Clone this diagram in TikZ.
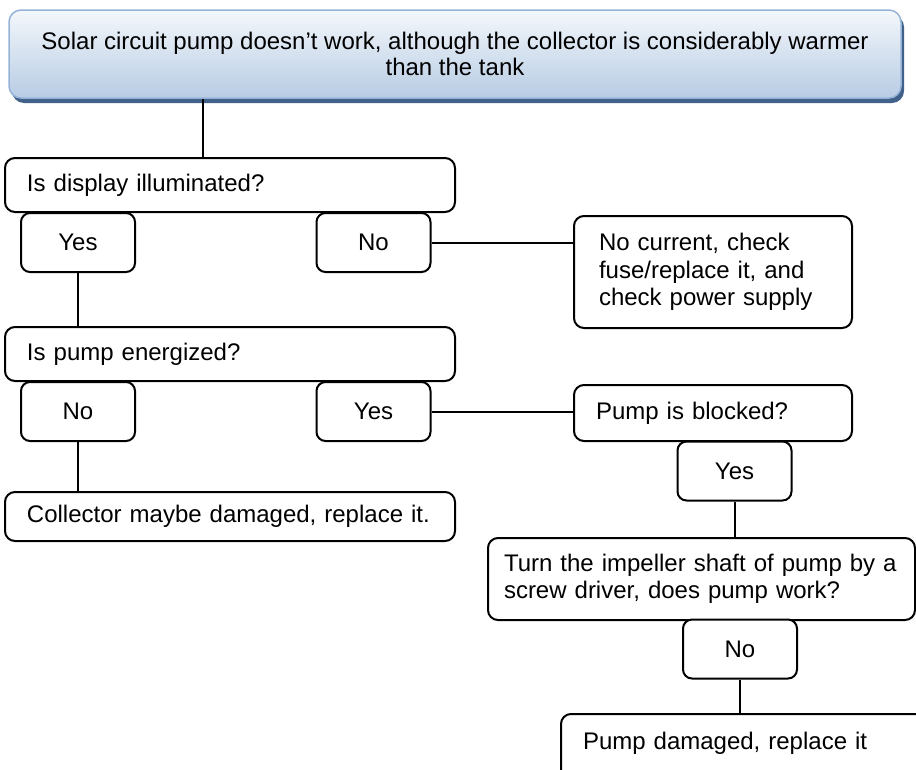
\documentclass[tikz,border=0pt]{standalone}
\usepackage{fontspec}
\setmainfont{Liberation Sans}
\usetikzlibrary{shadows}
\definecolor{hdrrim}{HTML}{95B3D7}
\definecolor{hdrtop}{HTML}{F3F7FB}
\definecolor{hdrbot}{HTML}{B8CCE4}
\definecolor{hdrshade}{HTML}{41618A}
\begin{document}
\begin{tikzpicture}[x=1pt,y=-1pt,line width=2pt,
  every node/.style={font=\fontsize{24}{27.5}\selectfont},
  hdr/.style={draw=hdrrim,line width=1.5pt,rounded corners=12pt,top color=hdrtop,bottom color=hdrbot,
    drop shadow={shadow xshift=3pt,shadow yshift=-5pt,fill=hdrshade,opacity=1},
    minimum width=892pt,minimum height=88pt,align=center,font=\fontsize{24}{26}\selectfont},
  ask/.style={draw,fill=white,rounded corners=10pt,align=left,inner xsep=22pt,inner ysep=0pt},
  ans/.style={draw,fill=white,rounded corners=9pt,minimum width=114pt,minimum height=59pt}]
\useasboundingbox (0,0) rectangle (916,769);
\node[hdr] (top) at (455,54) {Solar circuit pump doesn’t work, although the collector is considerably warmer\\than the tank};
\node[ask,text width=406pt,minimum height=54pt] (dispq) at (230,185) {Is display illuminated?};
\node[ans] (dispy) at (78,242.5) {Yes};
\node[ans] (dispn) at (373.5,242.5) {No};
\node[ask,text width=228pt,inner xsep=25pt,minimum height=112pt] (nocur) at (713,272) {No current, check\\fuse/replace it, and\\check power supply};
\node[ask,text width=406pt,minimum height=54pt] (pumpq) at (230,354) {Is pump energized?};
\node[ans] (pumpn) at (78,411.5) {No};
\node[ans] (pumpy) at (373.5,411.5) {Yes};
\node[ask,text width=406pt,minimum height=49pt] (coll) at (230,516.5) {Collector maybe damaged, replace it.};
\node[ask,text width=234pt,minimum height=56pt] (blocked) at (713,413) {Pump is blocked?};
\node[ans] (blky) at (734.5,471) {Yes};
\node[ask,text width=395pt,inner xsep=16pt,minimum height=82pt] (turn) at (701.5,579) {Turn the impeller shaft of pump by a\\screw driver, does pump work?};
\node[ans] (turnn) at (740,649) {No};
\node[ask,text width=326pt,inner ysep=10pt,text height=25pt,text depth=40pt,anchor=north west] (dmg) at (560,713) {Pump damaged, replace it};
\coordinate (c1) at (203,0);
\draw (top.south -| c1) -- (dispq.north -| c1);
\draw (dispn.east) -- (dispn.east -| nocur.west);
\draw (dispy.south) -- (pumpq.north -| dispy.south);
\draw (pumpy.east) -- (pumpy.east -| blocked.west);
\draw (pumpn.south) -- (coll.north -| pumpn.south);
\draw (blky.south) -- (turn.north -| blky.south);
\draw (turnn.south) -- (dmg.north -| turnn.south);
\end{tikzpicture}
\end{document}
